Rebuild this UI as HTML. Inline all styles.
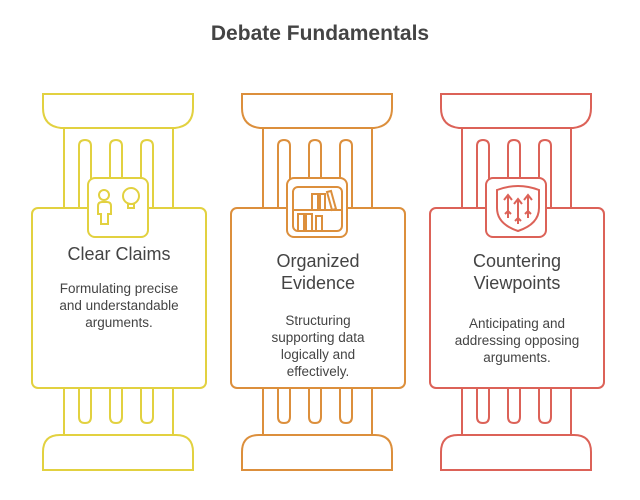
<!DOCTYPE html>
<html><head><style>body{margin:0;background:#fff}svg{display:block}text{font-family:"Liberation Sans",sans-serif}</style></head><body>
<svg width="640" height="500" viewBox="0 0 640 500" xmlns="http://www.w3.org/2000/svg">
<text x="320" y="40" text-anchor="middle" font-size="21" font-weight="bold" fill="#444">Debate Fundamentals</text>
<defs>
<g id="pil" fill="#fff" stroke-width="2">
<path d="M43,94 H193 V108 Q193,126 175,128 H61 Q43,126 43,108 Z"/>
<rect x="64" y="128" width="109" height="80"/>
<path d="M79,208 V146 Q79,140 85,140 Q91,140 91,146 V208 M110,208 V146 Q110,140 116,140 Q122,140 122,146 V208 M141,208 V146 Q141,140 147,140 Q153,140 153,146 V208"/>
<rect x="64" y="388" width="109" height="47"/>
<path d="M79,388 V417 Q79,423 85,423 Q91,423 91,417 V388 M110,388 V417 Q110,423 116,423 Q122,423 122,417 V388 M141,388 V417 Q141,423 147,423 Q153,423 153,417 V388"/>
<path d="M43,470 V452 Q43,435 60,435 H176 Q193,435 193,452 V470 Z"/>
<rect x="32" y="208" width="174" height="180" rx="6"/>
<rect x="88" y="178" width="60" height="59" rx="7"/>
</g>
</defs>
<use href="#pil" stroke="#e2d140"/>
<use href="#pil" stroke="#dc8f3c" x="199"/>
<use href="#pil" stroke="#dc6258" x="398"/>
<!-- icon 1 -->
<g fill="none" stroke="#e2d140" stroke-width="2">
<circle cx="104" cy="195" r="5"/>
<path d="M98,214 V206 Q98,202 102,202 H107 Q111,202 111,206 V214 H108 V224 H101 V214 Z"/>
<circle cx="131" cy="196" r="8"/>
<path d="M128,204 H134 V208 H128 Z"/>
</g>
<!-- icon 2 -->
<g fill="none" stroke="#dc8f3c" stroke-width="2">
<rect x="293" y="187" width="49" height="44" rx="5"/>
<path d="M293,210 H342 M312,210 V194 H318 V210 M320,210 V194 H325 V210 M327,192 L331,191 L336,209 L332,210 Z M298,230 V214 H304 V230 M306,230 V214 H312 V230 M316,230 V216 H322 V230"/>
</g>
<!-- icon 3 -->
<g fill="none" stroke="#dc6258" stroke-width="2">
<path d="M497,190 Q518,182 539,190 V208 Q539,224 518,231 Q497,224 497,208 Z"/>
<path d="M508,218 V196 M504,200 L508,195 L512,200 M518,224 V200 M514,204 L518,199 L522,204 M528,218 V196 M524,200 L528,195 L532,200 M505,214 L508,211 L511,214 M515,221 L518,218 L521,221 M525,214 L528,211 L531,214"/>
</g>
<g font-size="18" fill="#444" text-anchor="middle">
<text x="119" y="260">Clear Claims</text>
<text x="318" y="267">Organized</text>
<text x="318" y="289">Evidence</text>
<text x="517" y="267">Countering</text>
<text x="517" y="289">Viewpoints</text>
</g>
<g font-size="13.5" fill="#444" text-anchor="middle">
<text x="119" y="293">Formulating precise</text>
<text x="119" y="310">and understandable</text>
<text x="119" y="327">arguments.</text>
<text x="318" y="325">Structuring</text>
<text x="318" y="342">supporting data</text>
<text x="318" y="359">logically and</text>
<text x="318" y="376">effectively.</text>
<text x="517" y="328">Anticipating and</text>
<text x="517" y="345">addressing opposing</text>
<text x="517" y="362">arguments.</text>
</g>
</svg>
</body></html>
